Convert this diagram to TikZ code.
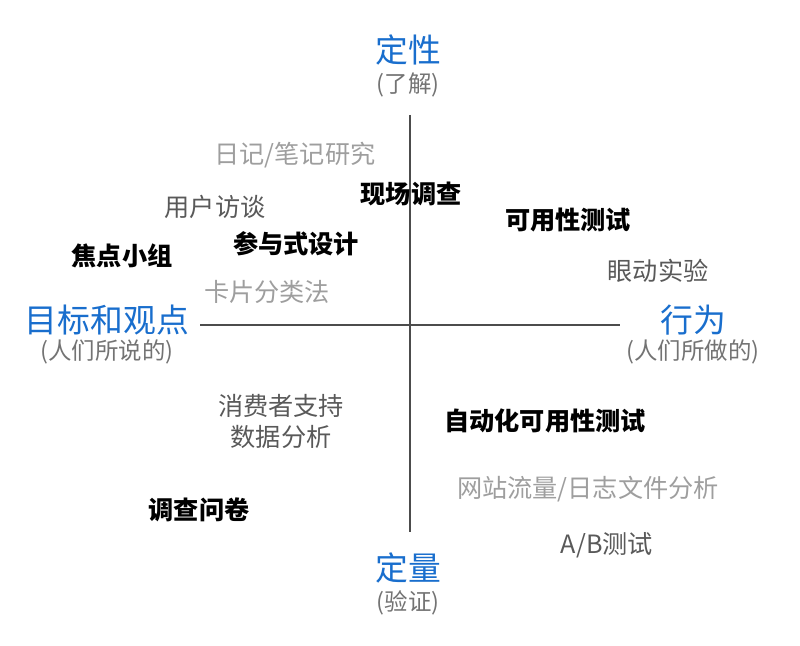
\documentclass[tikz,border=0pt]{standalone}
\usepackage{fontspec}
\setmainfont{Noto Sans CJK SC}
\definecolor{tblue}{RGB}{25,110,205}
\begin{document}
\begin{tikzpicture}[x=0.03cm,y=-0.03cm,
  ttl/.style={text=tblue,font=\fontsize{28}{30}\selectfont},
  sub/.style={text=black!55,font=\fontsize{20}{22}\selectfont},
  blk/.style={text=black,font=\fontsize{21.5}{23}\selectfont\bfseries},
  dg/.style={text=black!65,font=\fontsize{21.5}{23}\selectfont},
  lg/.style={text=black!38,font=\fontsize{21.5}{23}\selectfont},
  ax/.style={draw=black!70,line width=1.2pt}]
\useasboundingbox (0,0) rectangle (800,646);
\coordinate (t) at (410,115); \coordinate (b) at (410,532);
\coordinate (l) at (200,325); \coordinate (r) at (620,325);
\draw[ax] (t) -- (b); \draw[ax] (l) -- (r);
\node[ttl] (n1) at (408,50) {定性};
\node[sub] (n2) at (408,85) {(了解)};
\node[ttl] (n3) at (107,320) {目标和观点};
\node[sub] (n4) at (107,352) {(人们所说的)};
\node[ttl] (n5) at (693,320) {行为};
\node[sub] (n6) at (693,352) {(人们所做的)};
\node[ttl] (n7) at (408,568) {定量};
\node[sub] (n8) at (408,603) {(验证)};
\node[lg] (a1) at (295,155) {日记/笔记研究};
\node[blk] (a2) at (411,194) {现场调查};
\node[dg] (a3) at (215,207) {用户访谈};
\node[blk] (a4) at (568,220) {可用性测试};
\node[blk] (a5) at (296,244) {参与式设计};
\node[blk] (a6) at (122,256) {焦点小组};
\node[dg] (a7) at (658,271) {眼动实验};
\node[lg] (a8) at (267,292) {卡片分类法};
\node[dg] (a9) at (281,406) {消费者支持};
\node[dg] (a10) at (281,437) {数据分析};
\node[blk] (a11) at (545,421) {自动化可用性测试};
\node[lg] (a12) at (588,489) {网站流量/日志文件分析};
\node[blk] (a13) at (199,510) {调查问卷};
\node[dg] (a14) at (607,545) {A/B测试};
\end{tikzpicture}
\end{document}
